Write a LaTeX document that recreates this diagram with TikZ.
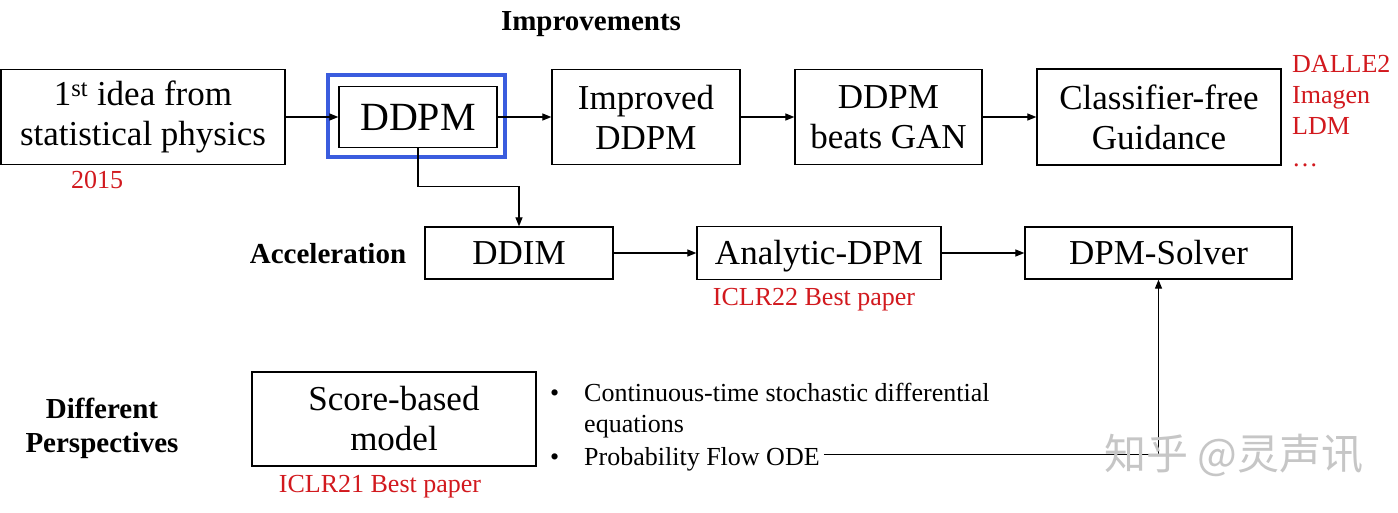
\documentclass[tikz,border=0pt]{standalone}
\usepackage{fontspec}
\setmainfont{Liberation Serif}
\newfontfamily\cjkfont{Noto Sans CJK SC}
\usetikzlibrary{arrows.meta}
\definecolor{myblue}{RGB}{58,92,222}
\definecolor{myred}{RGB}{210,25,30}
\begin{document}
\begin{tikzpicture}[x=1pt,y=-1pt,
  box/.style={draw, line width=1.3pt, inner sep=0pt, align=center, font=\fontsize{35}{40}\selectfont},
  onebox/.style={box, text height=23pt, text depth=0pt},
  redtxt/.style={text=myred, font=\fontsize{26}{31}\selectfont, inner sep=0pt},
  head/.style={font=\bfseries\fontsize{29}{34}\selectfont, inner sep=0pt, align=center},
  bul/.style={font=\fontsize{26}{31}\selectfont, inner sep=0pt, anchor=base west},
  conn/.style={line width=1.2pt, -{Triangle[length=9pt,width=7pt]}},
  plainline/.style={line width=1.2pt}]
\useasboundingbox (0,0) rectangle (1398,512);
\fill[white] (0,0) rectangle (1398,512);

% headings
\node[head] (himp) at (591,24) {Improvements};
\node[head] (hacc) at (328,254) {Acceleration};
\node[head] (hdiff) at (102,428) {Different\\Perspectives};

% top row
\node[box, minimum width=284pt, minimum height=95pt] (idea) at (143,117) {1\textsuperscript{st} idea from\\statistical physics};
\node[redtxt] (y2015) at (97,180) {2015};
\node[draw=myblue, line width=4.5pt, minimum width=177pt, minimum height=82pt, inner sep=0pt] (hl) at (416.5,116) {};
\node[box, minimum width=158pt, minimum height=61pt, font=\fontsize{40}{46}\selectfont, text height=26.5pt, text depth=0pt] (ddpm) at (418,117) {DDPM};
\node[box, minimum width=188pt, minimum height=95pt] (imp) at (646,117) {Improved\\DDPM};
\node[box, minimum width=187pt, minimum height=95pt] (beats) at (888.5,117) {DDPM\\beats GAN};
\node[box, minimum width=244pt, minimum height=96pt] (cfg) at (1159,117) {Classifier-free\\Guidance};
\node[redtxt, anchor=base west] (r1) at (1292,72) {DALLE2};
\node[redtxt, anchor=base west] (r2) at (1292,103) {Imagen};
\node[redtxt, anchor=base west] (r3) at (1292,134) {LDM};
\node[redtxt, anchor=base west] (r4) at (1292,166) {\ldots};

\draw[conn] (idea.east) -- (ddpm.west);
\draw[conn] (ddpm.east) -- (imp.west);
\draw[conn] (imp.east) -- (beats.west);
\draw[conn] (beats.east) -- (cfg.west);

% middle row
\node[onebox, minimum width=188pt, minimum height=52pt] (ddim) at (519,253) {DDIM};
\node[onebox, minimum width=244pt, minimum height=53pt] (ana) at (819,253) {Analytic-DPM};
\node[redtxt] (iclr22) at (814,300) {ICLR22 Best paper};
\node[onebox, minimum width=267pt, minimum height=52pt] (solver) at (1158.5,253) {DPM-Solver};

\draw[conn] (ddpm.south) -- ++(0,38) -| (ddim.north);
\draw[conn] (ddim.east) -- (ana.west);
\draw[conn] (ana.east) -- (solver.west);

% bottom row
\node[box, minimum width=284pt, minimum height=94pt] (score) at (394,419) {Score-based\\model};
\node[redtxt] (iclr21) at (380,487) {ICLR21 Best paper};
\node[bul] (b1) at (550,401) {\textbullet};
\node[bul] (t1) at (584,401) {Continuous-time stochastic differential};
\node[bul] (t2) at (584,432) {equations};
\node[bul] (b2) at (550,465) {\textbullet};
\node[bul, inner xsep=4pt] (pfo) at (580,465) {Probability Flow ODE};

\draw[conn] ([yshift=4pt]pfo.east) -| (solver.south);

% watermark
\node[text=gray!45, font=\cjkfont\fontsize{42}{42}\selectfont, anchor=west, inner sep=0pt] (wm) at (1104,455) {知乎 @灵声讯};
\end{tikzpicture}
\end{document}
